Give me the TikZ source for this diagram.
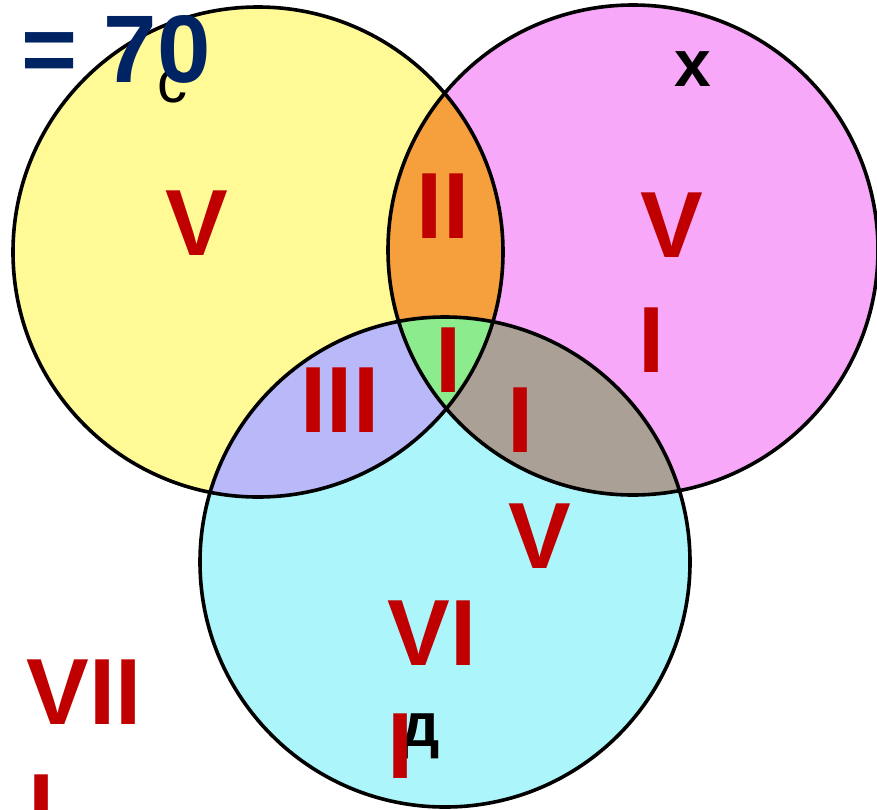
\documentclass[tikz,border=0pt]{standalone}
\usepackage{fontspec}
\setmainfont{Liberation Sans}
\definecolor{cyel}{RGB}{255,250,150}
\definecolor{cpink}{RGB}{248,168,248}
\definecolor{ccyan}{RGB}{172,245,250}
\definecolor{corange}{RGB}{245,160,60}
\definecolor{cgreen}{RGB}{140,235,140}
\definecolor{clav}{RGB}{185,185,250}
\definecolor{cgray}{RGB}{170,160,150}
\definecolor{cred}{RGB}{192,0,0}
\definecolor{cnavy}{RGB}{0,35,100}
\tikzset{
  ring/.style={draw=black,line width=3.6pt},
  roman/.style={text=cred,font=\bfseries\fontsize{94}{115}\selectfont,inner sep=0pt,anchor=base},
  letter/.style={text=black,inner sep=0pt,anchor=base},
}
\begin{document}
\begin{tikzpicture}[x=1pt,y=-1pt]
\useasboundingbox (0,0) rectangle (877,809);
\begin{scope}
\clip (0,0) rectangle (877,809);
\def\R{245}
\coordinate (cy) at (258,252);
\coordinate (cp) at (633,250);
\coordinate (cc) at (445,562);
% base fills
\fill[cyel] (cy) circle[radius=\R];
\fill[cpink] (cp) circle[radius=\R];
\fill[ccyan] (cc) circle[radius=\R];
% pairwise
\begin{scope}\clip (cy) circle[radius=\R]; \fill[corange] (cp) circle[radius=\R];\end{scope}
\begin{scope}\clip (cy) circle[radius=\R]; \fill[clav] (cc) circle[radius=\R];\end{scope}
\begin{scope}\clip (cp) circle[radius=\R]; \fill[cgray] (cc) circle[radius=\R];\end{scope}
\begin{scope}\clip (cy) circle[radius=\R]; \clip (cp) circle[radius=\R]; \fill[cgreen] (cc) circle[radius=\R];\end{scope}
% outlines
\draw[ring] (cy) circle[radius=\R];
\draw[ring] (cp) circle[radius=\R];
\draw[ring] (cc) circle[radius=\R];
% small letters
\node[letter,font=\fontsize{60}{60}\selectfont] (lc) at (172,102) {с};
\node[letter,font=\bfseries\fontsize{66}{66}\selectfont] (lx) at (693,86) {х};
\node[letter,font=\bfseries\fontsize{62}{62}\selectfont] (ld) at (420,746) {д};
% roman numerals
\node[roman] (n1) at (197,255) {V};
\node[roman] (n2) at (443,238) {II};
\node[roman] (n3a) at (672,257) {V};
\node[roman] (n3b) at (652,372) {I};
\node[roman] (n4) at (449,392) {I};
\node[roman] (n5) at (340,432) {III};
\node[roman] (n6a) at (521,452) {I};
\node[roman] (n6b) at (540,568) {V};
\node[roman] (n7a) at (432,665) {VI};
\node[roman] (n7b) at (401,778) {I};
\node[roman] (n8a) at (84,724) {VII};
\node[roman] (n8b) at (42,839) {I};
% total
\node[text=cnavy,font=\bfseries\fontsize{96}{100}\selectfont,inner sep=0pt,anchor=base west] (tot) at (21,82) {= 70};
\end{scope}
\end{tikzpicture}
\end{document}
